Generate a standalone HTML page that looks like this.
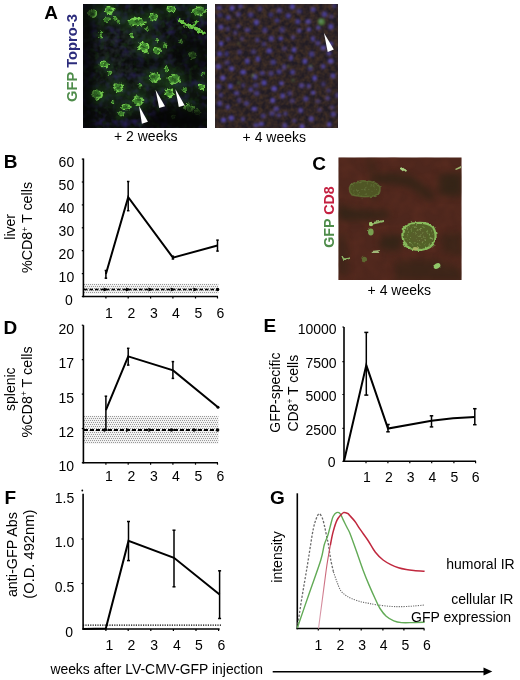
<!DOCTYPE html>
<html><head><meta charset="utf-8"><style>
html,body{margin:0;padding:0;background:#fff;}
body{width:520px;height:680px;overflow:hidden;}
svg text{font-family:'Liberation Sans', sans-serif;}
</style></head><body>
<svg width="520" height="680" viewBox="0 0 520 680" style="display:block;font-family:'Liberation Sans', sans-serif">
<defs>
<filter color-interpolation-filters="sRGB" id="b2" x="-20%" y="-20%" width="140%" height="140%"><feGaussianBlur stdDeviation="4"/></filter>
<filter color-interpolation-filters="sRGB" id="b3" x="-20%" y="-20%" width="140%" height="140%"><feGaussianBlur stdDeviation="6"/></filter>
<filter color-interpolation-filters="sRGB" id="b6" x="-20%" y="-20%" width="140%" height="140%"><feGaussianBlur stdDeviation="14"/></filter>
<filter color-interpolation-filters="sRGB" id="disp1" x="-10%" y="-10%" width="120%" height="120%"><feTurbulence type="fractalNoise" baseFrequency="0.3" numOctaves="2" seed="11" result="t"/><feDisplacementMap in="SourceGraphic" in2="t" scale="5" xChannelSelector="R" yChannelSelector="G" result="d"/><feGaussianBlur in="d" stdDeviation="0.7"/></filter>
<filter color-interpolation-filters="sRGB" id="ngrayM" x="0" y="0" width="100%" height="100%"><feTurbulence type="fractalNoise" baseFrequency="0.2" numOctaves="2" seed="17" result="n"/><feColorMatrix in="n" type="matrix" values="0 0 0 0 0  0 0 0 0 0  0 0 0 0 0  1.8 0 0 0 -0.5" result="m"/><feComposite in="SourceGraphic" in2="m" operator="in"/></filter>
<filter color-interpolation-filters="sRGB" id="speck" x="0" y="0" width="100%" height="100%"><feTurbulence type="fractalNoise" baseFrequency="0.45" numOctaves="1" seed="23" result="n"/><feColorMatrix in="n" type="matrix" values="0 0 0 0 0  0 0 0 0 0  0 0 0 0 0  4.5 0 0 0 -2.55" result="m"/><feComposite in="SourceGraphic" in2="m" operator="in"/></filter>
<filter color-interpolation-filters="sRGB" id="disp3" x="-10%" y="-10%" width="120%" height="120%"><feTurbulence type="fractalNoise" baseFrequency="0.2" numOctaves="2" seed="31" result="t"/><feDisplacementMap in="SourceGraphic" in2="t" scale="3" xChannelSelector="R" yChannelSelector="G" result="d"/><feGaussianBlur in="d" stdDeviation="0.6"/></filter>
<filter color-interpolation-filters="sRGB" id="bl1" x="-20%" y="-20%" width="140%" height="140%"><feGaussianBlur stdDeviation="0.8"/></filter>
<filter color-interpolation-filters="sRGB" id="bl4" x="-30%" y="-30%" width="160%" height="160%"><feGaussianBlur stdDeviation="3.5"/></filter>
<filter color-interpolation-filters="sRGB" id="nblue1" x="0" y="0" width="100%" height="100%"><feTurbulence type="fractalNoise" baseFrequency="0.13" numOctaves="2" seed="4"/><feColorMatrix type="matrix" values="0 0 0 0 0.16  0 0 0 0 0.12  0 0 0 0 0.36  0 0 2.0 0 -0.92"/></filter>
<filter color-interpolation-filters="sRGB" id="ngreen1" x="0" y="0" width="100%" height="100%"><feTurbulence type="fractalNoise" baseFrequency="0.18" numOctaves="2" seed="9"/><feColorMatrix type="matrix" values="0 0 0 0 0.1  0 0 0 0 0.24  0 0 0 0 0.08  1.8 0 0 0 -0.95"/></filter>
<filter color-interpolation-filters="sRGB" id="nbrown2" x="0" y="0" width="100%" height="100%"><feTurbulence type="fractalNoise" baseFrequency="0.05" numOctaves="2" seed="2"/><feColorMatrix type="matrix" values="0 0 0 0 0.26  0 0 0 0 0.19  0 0 0 0 0.15  1.9 0 0 0 -0.52"/></filter>
<filter color-interpolation-filters="sRGB" id="nred3" x="0" y="0" width="100%" height="100%"><feTurbulence type="fractalNoise" baseFrequency="0.08" numOctaves="2" seed="5"/><feColorMatrix type="matrix" values="0 0 0 0 0.37  0 0 0 0 0.18  0 0 0 0 0.13  1.8 0 0 0 -0.6"/></filter>
<filter id="nop" x="0" y="0" width="100%" height="100%" filterUnits="userSpaceOnUse"><feOffset dx="0" dy="0"/></filter>
<pattern id="stip" width="4" height="4" patternUnits="userSpaceOnUse"><rect width="4" height="4" fill="#f2f2f2"/><rect x="0" y="0" width="1" height="1" fill="#999"/><rect x="2" y="0" width="1" height="1" fill="#999"/><rect x="1" y="2" width="1" height="1" fill="#999"/><rect x="3" y="2" width="1" height="1" fill="#999"/></pattern>
</defs>
<g filter="url(#nop)">
<text x="44.3" y="18.8" font-size="19" text-anchor="start" font-weight="bold" fill="#000">A</text>
<text x="3.7" y="168.1" font-size="19" text-anchor="start" font-weight="bold" fill="#000">B</text>
<text x="312.2" y="169.6" font-size="19" text-anchor="start" font-weight="bold" fill="#000">C</text>
<text x="3.4" y="333.7" font-size="19" text-anchor="start" font-weight="bold" fill="#000">D</text>
<text x="263.5" y="332.0" font-size="19" text-anchor="start" font-weight="bold" fill="#000">E</text>
<text x="4.5" y="503.9" font-size="19" text-anchor="start" font-weight="bold" fill="#000">F</text>
<text x="269.9" y="503.9" font-size="19" text-anchor="start" font-weight="bold" fill="#000">G</text>
<svg x="83" y="4" width="124" height="124" viewBox="0 0 124 124" preserveAspectRatio="none">
<rect width="124" height="124" fill="#0c0e0d"/>
<rect width="124" height="124" filter="url(#nblue1)"/>
<rect width="124" height="124" filter="url(#ngreen1)"/>
<defs><radialGradient id="hz1" cx="0.35" cy="0.4" r="0.55"><stop offset="0" stop-color="#3a4448" stop-opacity="0.55"/><stop offset="1" stop-color="#3a4448" stop-opacity="0"/></radialGradient></defs>
<rect width="124" height="124" fill="url(#hz1)" filter="url(#ngrayM)"/>
<g filter="url(#bl4)" opacity="0.55">
<ellipse cx="9.5" cy="9.5" rx="8.60" ry="8.60" fill="#1e4a1a"/>
<ellipse cx="26.2" cy="6" rx="9.60" ry="7.60" fill="#1e4a1a"/>
<ellipse cx="23.8" cy="15.5" rx="5.80" ry="5.00" fill="#1e4a1a"/>
<ellipse cx="53.6" cy="17.9" rx="17.00" ry="8.00" fill="#1e4a1a"/>
<ellipse cx="70.3" cy="13.1" rx="8.60" ry="8.00" fill="#1e4a1a"/>
<ellipse cx="88.2" cy="4.8" rx="8.60" ry="7.00" fill="#1e4a1a"/>
<ellipse cx="116" cy="7" rx="13.00" ry="8.40" fill="#1e4a1a"/>
<ellipse cx="35.8" cy="17.9" rx="4.00" ry="4.00" fill="#1e4a1a"/>
<ellipse cx="17.9" cy="32.2" rx="4.00" ry="4.00" fill="#1e4a1a"/>
<ellipse cx="60.8" cy="42.9" rx="10.40" ry="10.00" fill="#1e4a1a"/>
<ellipse cx="73.9" cy="46.5" rx="7.20" ry="7.20" fill="#1e4a1a"/>
<ellipse cx="82.3" cy="41.7" rx="4.00" ry="4.00" fill="#1e4a1a"/>
<ellipse cx="109.7" cy="51.3" rx="7.20" ry="6.60" fill="#1e4a1a"/>
<ellipse cx="21.3" cy="60.5" rx="8.40" ry="5.60" fill="#1e4a1a"/>
<ellipse cx="71.5" cy="73.6" rx="10.40" ry="9.60" fill="#1e4a1a"/>
<ellipse cx="91.1" cy="75.1" rx="12.00" ry="9.60" fill="#1e4a1a"/>
<ellipse cx="83.5" cy="64.4" rx="4.80" ry="4.80" fill="#1e4a1a"/>
<ellipse cx="35.3" cy="83.5" rx="9.60" ry="9.00" fill="#1e4a1a"/>
<ellipse cx="14.3" cy="90.6" rx="10.40" ry="9.60" fill="#1e4a1a"/>
<ellipse cx="54.8" cy="96.6" rx="10.40" ry="10.00" fill="#1e4a1a"/>
<ellipse cx="86.3" cy="88.7" rx="8.60" ry="8.60" fill="#1e4a1a"/>
<ellipse cx="42.9" cy="103" rx="8.60" ry="5.80" fill="#1e4a1a"/>
<ellipse cx="38.1" cy="109.7" rx="5.80" ry="4.80" fill="#1e4a1a"/>
<ellipse cx="118" cy="82.8" rx="6.00" ry="6.00" fill="#1e4a1a"/>
<ellipse cx="106.1" cy="103.7" rx="9.00" ry="8.00" fill="#1e4a1a"/>
<ellipse cx="114.5" cy="108.5" rx="7.00" ry="6.00" fill="#1e4a1a"/>
<ellipse cx="101.3" cy="85.8" rx="4.80" ry="4.80" fill="#1e4a1a"/>
<ellipse cx="57.2" cy="81.1" rx="4.80" ry="4.00" fill="#1e4a1a"/>
<ellipse cx="26.2" cy="69.1" rx="4.00" ry="4.00" fill="#1e4a1a"/>
<ellipse cx="32.2" cy="14.3" rx="4.00" ry="4.00" fill="#1e4a1a"/>
<ellipse cx="48.8" cy="31" rx="5.00" ry="4.00" fill="#1e4a1a"/>
<ellipse cx="18" cy="28" rx="3.00" ry="3.00" fill="#1e4a1a"/>
<ellipse cx="74" cy="36" rx="4.00" ry="3.20" fill="#1e4a1a"/>
<ellipse cx="64" cy="25" rx="3.20" ry="3.20" fill="#1e4a1a"/>
<ellipse cx="64" cy="48" rx="3.00" ry="3.00" fill="#1e4a1a"/>
<ellipse cx="83.6" cy="65" rx="4.00" ry="4.00" fill="#1e4a1a"/>
<ellipse cx="30" cy="98" rx="4.00" ry="4.00" fill="#1e4a1a"/>
<ellipse cx="90" cy="113" rx="4.00" ry="4.00" fill="#1e4a1a"/>
<ellipse cx="98" cy="38" rx="4.00" ry="4.00" fill="#1e4a1a"/>
<ellipse cx="120" cy="70" rx="4.00" ry="4.00" fill="#1e4a1a"/>
</g>
<g filter="url(#disp1)">
<ellipse cx="9.5" cy="9.5" rx="3.83" ry="3.83" fill="#428c30" stroke="#7cd854" stroke-width="1.63" stroke-dasharray="7.4 2.3" opacity="0.94"/>
<ellipse cx="10.0" cy="10.1" rx="1.63" ry="1.39" fill="#1a3a18" opacity="0.57"/>
<ellipse cx="26.2" cy="6" rx="4.47" ry="3.39" fill="#428c30" stroke="#7cd854" stroke-width="1.44" stroke-dasharray="8.3 2.6" opacity="0.99"/>
<ellipse cx="26.7" cy="6.8" rx="1.81" ry="1.23" fill="#1a3a18" opacity="0.59"/>
<ellipse cx="23.8" cy="15.5" rx="2.66" ry="2.23" fill="#428c30" stroke="#7cd854" stroke-width="0.94" stroke-dasharray="5.0 1.6" opacity="0.85"/>
<ellipse cx="23.7" cy="16.4" rx="1.10" ry="0.81" fill="#1a3a18" opacity="0.51"/>
<ellipse cx="53.6" cy="17.9" rx="8.42" ry="3.56" fill="#428c30" stroke="#7cd854" stroke-width="1.51" stroke-dasharray="14.7 4.6" opacity="0.95"/>
<ellipse cx="54.4" cy="17.1" rx="3.21" ry="1.30" fill="#1a3a18" opacity="0.57"/>
<ellipse cx="70.3" cy="13.1" rx="3.89" ry="3.56" fill="#428c30" stroke="#7cd854" stroke-width="1.51" stroke-dasharray="7.4 2.3" opacity="0.92"/>
<ellipse cx="69.8" cy="13.2" rx="1.63" ry="1.30" fill="#1a3a18" opacity="0.55"/>
<ellipse cx="88.2" cy="4.8" rx="3.98" ry="3.12" fill="#428c30" stroke="#7cd854" stroke-width="1.32" stroke-dasharray="7.4 2.3" opacity="0.94"/>
<ellipse cx="87.2" cy="4.2" rx="1.63" ry="1.13" fill="#1a3a18" opacity="0.56"/>
<ellipse cx="116" cy="7" rx="6.23" ry="3.74" fill="#428c30" stroke="#7cd854" stroke-width="1.59" stroke-dasharray="11.2 3.5" opacity="0.89"/>
<ellipse cx="116.8" cy="7.5" rx="2.46" ry="1.36" fill="#1a3a18" opacity="0.54"/>
<ellipse cx="35.8" cy="17.9" rx="1.71" ry="1.71" fill="#428c30" stroke="#7cd854" stroke-width="0.90" stroke-dasharray="3.5 1.1" opacity="0.87"/>
<ellipse cx="36.4" cy="17.2" rx="0.76" ry="0.65" fill="#1a3a18" opacity="0.52"/>
<ellipse cx="17.9" cy="32.2" rx="1.71" ry="1.71" fill="#428c30" stroke="#7cd854" stroke-width="0.90" stroke-dasharray="3.5 1.1" opacity="0.94"/>
<ellipse cx="17.2" cy="31.2" rx="0.76" ry="0.65" fill="#1a3a18" opacity="0.57"/>
<ellipse cx="60.8" cy="42.9" rx="4.67" ry="4.46" fill="#428c30" stroke="#7cd854" stroke-width="1.89" stroke-dasharray="9.0 2.8" opacity="0.98"/>
<ellipse cx="60.2" cy="42.3" rx="1.97" ry="1.62" fill="#1a3a18" opacity="0.59"/>
<ellipse cx="73.9" cy="46.5" rx="3.21" ry="3.21" fill="#428c30" stroke="#7cd854" stroke-width="1.36" stroke-dasharray="6.2 1.9" opacity="1.00"/>
<ellipse cx="74.6" cy="46.1" rx="1.36" ry="1.17" fill="#1a3a18" opacity="0.60"/>
<ellipse cx="82.3" cy="41.7" rx="1.71" ry="1.71" fill="#428c30" stroke="#7cd854" stroke-width="0.90" stroke-dasharray="3.5 1.1" opacity="0.99"/>
<ellipse cx="82.4" cy="42.1" rx="0.76" ry="0.65" fill="#1a3a18" opacity="0.60"/>
<ellipse cx="109.7" cy="51.3" rx="3.26" ry="2.94" fill="#428c30" stroke="#7cd854" stroke-width="1.25" stroke-dasharray="6.2 1.9" opacity="0.88"/>
<ellipse cx="110.6" cy="51.7" rx="1.36" ry="1.07" fill="#1a3a18" opacity="0.53"/>
<ellipse cx="21.3" cy="60.5" rx="4.01" ry="2.49" fill="#428c30" stroke="#7cd854" stroke-width="1.06" stroke-dasharray="7.3 2.3" opacity="0.99"/>
<ellipse cx="22.1" cy="60.1" rx="1.59" ry="0.91" fill="#1a3a18" opacity="0.60"/>
<ellipse cx="71.5" cy="73.6" rx="4.71" ry="4.28" fill="#428c30" stroke="#7cd854" stroke-width="1.81" stroke-dasharray="9.0 2.8" opacity="0.90"/>
<ellipse cx="70.8" cy="72.9" rx="1.97" ry="1.56" fill="#1a3a18" opacity="0.54"/>
<ellipse cx="91.1" cy="75.1" rx="5.57" ry="4.28" fill="#428c30" stroke="#7cd854" stroke-width="1.81" stroke-dasharray="10.4 3.2" opacity="0.86"/>
<ellipse cx="90.7" cy="75.3" rx="2.27" ry="1.56" fill="#1a3a18" opacity="0.52"/>
<ellipse cx="83.5" cy="64.4" rx="2.14" ry="2.14" fill="#428c30" stroke="#7cd854" stroke-width="0.91" stroke-dasharray="4.1 1.3" opacity="0.85"/>
<ellipse cx="83.9" cy="64.1" rx="0.91" ry="0.78" fill="#1a3a18" opacity="0.51"/>
<ellipse cx="35.3" cy="83.5" rx="4.33" ry="4.01" fill="#428c30" stroke="#7cd854" stroke-width="1.70" stroke-dasharray="8.3 2.6" opacity="0.90"/>
<ellipse cx="35.9" cy="83.5" rx="1.81" ry="1.46" fill="#1a3a18" opacity="0.54"/>
<ellipse cx="14.3" cy="90.6" rx="4.71" ry="4.28" fill="#428c30" stroke="#7cd854" stroke-width="1.81" stroke-dasharray="9.0 2.8" opacity="0.90"/>
<ellipse cx="14.3" cy="91.0" rx="1.97" ry="1.56" fill="#1a3a18" opacity="0.54"/>
<ellipse cx="54.8" cy="96.6" rx="4.67" ry="4.46" fill="#428c30" stroke="#7cd854" stroke-width="1.89" stroke-dasharray="9.0 2.8" opacity="0.86"/>
<ellipse cx="55.8" cy="95.6" rx="1.97" ry="1.62" fill="#1a3a18" opacity="0.52"/>
<ellipse cx="86.3" cy="88.7" rx="3.83" ry="3.83" fill="#428c30" stroke="#7cd854" stroke-width="1.63" stroke-dasharray="7.4 2.3" opacity="0.96"/>
<ellipse cx="87.0" cy="87.7" rx="1.63" ry="1.39" fill="#1a3a18" opacity="0.58"/>
<ellipse cx="42.9" cy="103" rx="4.10" ry="2.58" fill="#428c30" stroke="#7cd854" stroke-width="1.10" stroke-dasharray="7.4 2.3" opacity="0.97"/>
<ellipse cx="42.6" cy="103.2" rx="1.63" ry="0.94" fill="#1a3a18" opacity="0.58"/>
<ellipse cx="38.1" cy="109.7" rx="2.68" ry="2.14" fill="#428c30" stroke="#7cd854" stroke-width="0.91" stroke-dasharray="5.0 1.6" opacity="0.85"/>
<ellipse cx="37.2" cy="109.1" rx="1.10" ry="0.78" fill="#1a3a18" opacity="0.51"/>
<ellipse cx="118" cy="82.8" rx="2.67" ry="2.67" fill="#428c30" stroke="#7cd854" stroke-width="1.13" stroke-dasharray="5.2 1.6" opacity="0.99"/>
<ellipse cx="117.4" cy="83.3" rx="1.13" ry="0.97" fill="#1a3a18" opacity="0.60"/>
<ellipse cx="106.1" cy="103.7" rx="4.10" ry="3.56" fill="#428c30" stroke="#7cd854" stroke-width="1.51" stroke-dasharray="7.8 2.4" opacity="0.99"/>
<ellipse cx="107.0" cy="103.4" rx="1.70" ry="1.30" fill="#1a3a18" opacity="0.59"/>
<ellipse cx="114.5" cy="108.5" rx="3.21" ry="2.67" fill="#428c30" stroke="#7cd854" stroke-width="1.13" stroke-dasharray="6.0 1.9" opacity="0.90"/>
<ellipse cx="114.5" cy="109.1" rx="1.32" ry="0.97" fill="#1a3a18" opacity="0.54"/>
<ellipse cx="101.3" cy="85.8" rx="2.14" ry="2.14" fill="#428c30" stroke="#7cd854" stroke-width="0.91" stroke-dasharray="4.1 1.3" opacity="0.87"/>
<ellipse cx="101.8" cy="86.4" rx="0.91" ry="0.78" fill="#1a3a18" opacity="0.52"/>
<ellipse cx="57.2" cy="81.1" rx="2.14" ry="1.71" fill="#428c30" stroke="#7cd854" stroke-width="0.90" stroke-dasharray="4.1 1.3" opacity="0.98"/>
<ellipse cx="56.3" cy="82.0" rx="0.91" ry="0.65" fill="#1a3a18" opacity="0.59"/>
<ellipse cx="26.2" cy="69.1" rx="1.71" ry="1.71" fill="#428c30" stroke="#7cd854" stroke-width="0.90" stroke-dasharray="3.5 1.1" opacity="0.86"/>
<ellipse cx="25.9" cy="69.3" rx="0.76" ry="0.65" fill="#1a3a18" opacity="0.52"/>
<ellipse cx="32.2" cy="14.3" rx="1.71" ry="1.71" fill="#428c30" stroke="#7cd854" stroke-width="0.90" stroke-dasharray="3.5 1.1" opacity="0.99"/>
<ellipse cx="31.9" cy="15.1" rx="0.76" ry="0.65" fill="#1a3a18" opacity="0.59"/>
<ellipse cx="48.8" cy="31" rx="2.25" ry="1.71" fill="#428c30" stroke="#7cd854" stroke-width="0.90" stroke-dasharray="4.3 1.4" opacity="0.93"/>
<ellipse cx="48.4" cy="30.6" rx="0.94" ry="0.65" fill="#1a3a18" opacity="0.56"/>
<ellipse cx="18" cy="28" rx="1.17" ry="1.17" fill="#428c30" stroke="#7cd854" stroke-width="0.90" stroke-dasharray="2.6 0.8" opacity="0.88"/>
<ellipse cx="17.2" cy="27.3" rx="0.57" ry="0.49" fill="#1a3a18" opacity="0.53"/>
<ellipse cx="74" cy="36" rx="1.71" ry="1.28" fill="#428c30" stroke="#7cd854" stroke-width="0.90" stroke-dasharray="3.5 1.1" opacity="0.95"/>
<ellipse cx="75.0" cy="35.3" rx="0.76" ry="0.52" fill="#1a3a18" opacity="0.57"/>
<ellipse cx="64" cy="25" rx="1.28" ry="1.28" fill="#428c30" stroke="#7cd854" stroke-width="0.90" stroke-dasharray="2.8 0.9" opacity="0.86"/>
<ellipse cx="65.0" cy="25.1" rx="0.60" ry="0.52" fill="#1a3a18" opacity="0.51"/>
<ellipse cx="64" cy="48" rx="1.17" ry="1.17" fill="#428c30" stroke="#7cd854" stroke-width="0.90" stroke-dasharray="2.6 0.8" opacity="0.91"/>
<ellipse cx="63.5" cy="48.2" rx="0.57" ry="0.49" fill="#1a3a18" opacity="0.55"/>
<ellipse cx="83.6" cy="65" rx="1.71" ry="1.71" fill="#428c30" stroke="#7cd854" stroke-width="0.90" stroke-dasharray="3.5 1.1" opacity="0.97"/>
<ellipse cx="83.5" cy="64.8" rx="0.76" ry="0.65" fill="#1a3a18" opacity="0.58"/>
<ellipse cx="30" cy="98" rx="1.71" ry="1.71" fill="#428c30" stroke="#7cd854" stroke-width="0.90" stroke-dasharray="3.5 1.1" opacity="0.86"/>
<ellipse cx="30.8" cy="97.1" rx="0.76" ry="0.65" fill="#1a3a18" opacity="0.52"/>
<ellipse cx="90" cy="113" rx="1.71" ry="1.71" fill="#428c30" stroke="#7cd854" stroke-width="0.90" stroke-dasharray="3.5 1.1" opacity="0.92"/>
<ellipse cx="90.7" cy="112.3" rx="0.76" ry="0.65" fill="#1a3a18" opacity="0.55"/>
<ellipse cx="98" cy="38" rx="1.71" ry="1.71" fill="#428c30" stroke="#7cd854" stroke-width="0.90" stroke-dasharray="3.5 1.1" opacity="0.96"/>
<ellipse cx="98.9" cy="38.3" rx="0.76" ry="0.65" fill="#1a3a18" opacity="0.58"/>
<ellipse cx="120" cy="70" rx="1.71" ry="1.71" fill="#428c30" stroke="#7cd854" stroke-width="0.90" stroke-dasharray="3.5 1.1" opacity="0.97"/>
<ellipse cx="119.2" cy="69.9" rx="0.76" ry="0.65" fill="#1a3a18" opacity="0.58"/>
<path d="M96.3 15.7 Q100 19 103 20.5 Q106 22 109.8 22.8 Q113 25 115 26 L121.2 29.2" fill="none" stroke="#6cc848" stroke-width="3.2" stroke-linecap="round"/>
<path d="M109.8 22.8 L114 17.1" fill="none" stroke="#5cb83e" stroke-width="2.4" stroke-linecap="round"/>
</g>
<g filter="url(#bl4)" fill="#030404">
<rect x="-4" y="-4" width="15" height="132" opacity="0.7"/>
<path d="M66 112 Q85 100 124 104 L124 124 L66 124Z" opacity="0.85"/>
<path d="M88 36 Q108 33 124 38 L124 66 Q108 64 90 58Z" opacity="0.55"/>
<path d="M40 50 Q60 55 80 52 L80 62 Q60 66 40 60Z" opacity="0.4"/>
</g>
</svg>
<polygon points="139,105.8 141.9,123.7 147.9,121.7" fill="#fff"/>
<polygon points="155.5,89.8 159.2,108.1 165,106.3" fill="#fff"/>
<polygon points="175.4,89 178.8,106.9 184.6,105.2" fill="#fff"/>
<svg x="215" y="4" width="123" height="124" viewBox="0 0 520 520" preserveAspectRatio="none">
<rect width="520" height="520" fill="#221c24"/>
<rect width="520" height="520" filter="url(#nbrown2)"/>
<g filter="url(#b2)">
<ellipse cx="18" cy="16" rx="11" ry="9" fill="#5a4ec4" opacity="0.64"/>
<ellipse cx="108" cy="10" rx="11" ry="9" fill="#5a4ec4" opacity="0.60"/>
<ellipse cx="190" cy="20" rx="10" ry="11" fill="#5a4ec4" opacity="0.46"/>
<ellipse cx="272" cy="27" rx="12" ry="11" fill="#5a4ec4" opacity="0.58"/>
<ellipse cx="356" cy="30" rx="12" ry="10" fill="#5a4ec4" opacity="0.46"/>
<ellipse cx="415" cy="23" rx="11" ry="10" fill="#5a4ec4" opacity="0.66"/>
<ellipse cx="492" cy="53" rx="11" ry="9" fill="#5a4ec4" opacity="0.43"/>
<ellipse cx="56" cy="57" rx="10" ry="10" fill="#5a4ec4" opacity="0.66"/>
<ellipse cx="99" cy="43" rx="11" ry="11" fill="#5a4ec4" opacity="0.51"/>
<ellipse cx="151" cy="45" rx="12" ry="11" fill="#5a4ec4" opacity="0.53"/>
<ellipse cx="236" cy="45" rx="10" ry="11" fill="#5a4ec4" opacity="0.47"/>
<ellipse cx="310" cy="49" rx="11" ry="11" fill="#5a4ec4" opacity="0.66"/>
<ellipse cx="350" cy="73" rx="11" ry="11" fill="#5a4ec4" opacity="0.66"/>
<ellipse cx="394" cy="74" rx="12" ry="10" fill="#5a4ec4" opacity="0.70"/>
<ellipse cx="175" cy="77" rx="11" ry="12" fill="#5a4ec4" opacity="0.77"/>
<ellipse cx="262" cy="69" rx="11" ry="9" fill="#5a4ec4" opacity="0.61"/>
<ellipse cx="86" cy="120" rx="9" ry="11" fill="#5a4ec4" opacity="0.46"/>
<ellipse cx="137" cy="109" rx="12" ry="9" fill="#5a4ec4" opacity="0.60"/>
<ellipse cx="211" cy="110" rx="11" ry="12" fill="#5a4ec4" opacity="0.53"/>
<ellipse cx="284" cy="108" rx="12" ry="12" fill="#5a4ec4" opacity="0.47"/>
<ellipse cx="356" cy="112" rx="10" ry="10" fill="#5a4ec4" opacity="0.67"/>
<ellipse cx="437" cy="99" rx="10" ry="10" fill="#5a4ec4" opacity="0.65"/>
<ellipse cx="25" cy="97" rx="11" ry="11" fill="#5a4ec4" opacity="0.70"/>
<ellipse cx="490" cy="95" rx="11" ry="12" fill="#5a4ec4" opacity="0.76"/>
<ellipse cx="54" cy="104" rx="9" ry="11" fill="#5a4ec4" opacity="0.43"/>
<ellipse cx="55" cy="147" rx="9" ry="10" fill="#5a4ec4" opacity="0.42"/>
<ellipse cx="114" cy="146" rx="9" ry="10" fill="#5a4ec4" opacity="0.41"/>
<ellipse cx="179" cy="151" rx="9" ry="10" fill="#5a4ec4" opacity="0.56"/>
<ellipse cx="238" cy="145" rx="12" ry="12" fill="#5a4ec4" opacity="0.61"/>
<ellipse cx="330" cy="140" rx="9" ry="10" fill="#5a4ec4" opacity="0.52"/>
<ellipse cx="414" cy="146" rx="9" ry="12" fill="#5a4ec4" opacity="0.64"/>
<ellipse cx="26" cy="166" rx="9" ry="11" fill="#5a4ec4" opacity="0.84"/>
<ellipse cx="104" cy="202" rx="10" ry="10" fill="#5a4ec4" opacity="0.48"/>
<ellipse cx="163" cy="200" rx="11" ry="10" fill="#5a4ec4" opacity="0.50"/>
<ellipse cx="229" cy="196" rx="12" ry="11" fill="#5a4ec4" opacity="0.77"/>
<ellipse cx="293" cy="187" rx="11" ry="10" fill="#5a4ec4" opacity="0.41"/>
<ellipse cx="334" cy="192" rx="10" ry="11" fill="#5a4ec4" opacity="0.83"/>
<ellipse cx="409" cy="210" rx="12" ry="12" fill="#5a4ec4" opacity="0.56"/>
<ellipse cx="482" cy="207" rx="10" ry="10" fill="#5a4ec4" opacity="0.68"/>
<ellipse cx="20" cy="209" rx="10" ry="11" fill="#5a4ec4" opacity="0.76"/>
<ellipse cx="15" cy="262" rx="12" ry="11" fill="#5a4ec4" opacity="0.74"/>
<ellipse cx="70" cy="271" rx="11" ry="10" fill="#5a4ec4" opacity="0.76"/>
<ellipse cx="136" cy="239" rx="10" ry="12" fill="#5a4ec4" opacity="0.73"/>
<ellipse cx="181" cy="231" rx="9" ry="12" fill="#5a4ec4" opacity="0.76"/>
<ellipse cx="246" cy="244" rx="12" ry="11" fill="#5a4ec4" opacity="0.56"/>
<ellipse cx="321" cy="226" rx="9" ry="12" fill="#5a4ec4" opacity="0.69"/>
<ellipse cx="380" cy="240" rx="10" ry="12" fill="#5a4ec4" opacity="0.77"/>
<ellipse cx="457" cy="262" rx="10" ry="10" fill="#5a4ec4" opacity="0.66"/>
<ellipse cx="292" cy="264" rx="9" ry="12" fill="#5a4ec4" opacity="0.56"/>
<ellipse cx="119" cy="286" rx="12" ry="10" fill="#5a4ec4" opacity="0.81"/>
<ellipse cx="200" cy="290" rx="11" ry="9" fill="#5a4ec4" opacity="0.60"/>
<ellipse cx="271" cy="284" rx="11" ry="10" fill="#5a4ec4" opacity="0.61"/>
<ellipse cx="328" cy="286" rx="10" ry="11" fill="#5a4ec4" opacity="0.65"/>
<ellipse cx="403" cy="270" rx="11" ry="10" fill="#5a4ec4" opacity="0.52"/>
<ellipse cx="33" cy="310" rx="11" ry="11" fill="#5a4ec4" opacity="0.81"/>
<ellipse cx="499" cy="301" rx="11" ry="11" fill="#5a4ec4" opacity="0.71"/>
<ellipse cx="169" cy="305" rx="10" ry="12" fill="#5a4ec4" opacity="0.71"/>
<ellipse cx="65" cy="345" rx="10" ry="11" fill="#5a4ec4" opacity="0.82"/>
<ellipse cx="119" cy="341" rx="9" ry="10" fill="#5a4ec4" opacity="0.43"/>
<ellipse cx="207" cy="330" rx="11" ry="11" fill="#5a4ec4" opacity="0.80"/>
<ellipse cx="281" cy="333" rx="11" ry="9" fill="#5a4ec4" opacity="0.80"/>
<ellipse cx="366" cy="342" rx="12" ry="10" fill="#5a4ec4" opacity="0.62"/>
<ellipse cx="396" cy="344" rx="9" ry="10" fill="#5a4ec4" opacity="0.63"/>
<ellipse cx="458" cy="336" rx="10" ry="11" fill="#5a4ec4" opacity="0.41"/>
<ellipse cx="151" cy="359" rx="9" ry="10" fill="#5a4ec4" opacity="0.68"/>
<ellipse cx="250" cy="355" rx="12" ry="11" fill="#5a4ec4" opacity="0.84"/>
<ellipse cx="25" cy="382" rx="9" ry="11" fill="#5a4ec4" opacity="0.52"/>
<ellipse cx="176" cy="374" rx="12" ry="11" fill="#5a4ec4" opacity="0.52"/>
<ellipse cx="316" cy="375" rx="11" ry="11" fill="#5a4ec4" opacity="0.44"/>
<ellipse cx="415" cy="372" rx="10" ry="9" fill="#5a4ec4" opacity="0.82"/>
<ellipse cx="102" cy="404" rx="9" ry="12" fill="#5a4ec4" opacity="0.43"/>
<ellipse cx="244" cy="404" rx="10" ry="11" fill="#5a4ec4" opacity="0.82"/>
<ellipse cx="327" cy="406" rx="11" ry="10" fill="#5a4ec4" opacity="0.45"/>
<ellipse cx="476" cy="395" rx="10" ry="10" fill="#5a4ec4" opacity="0.54"/>
<ellipse cx="133" cy="417" rx="11" ry="10" fill="#5a4ec4" opacity="0.56"/>
<ellipse cx="54" cy="432" rx="9" ry="11" fill="#5a4ec4" opacity="0.65"/>
<ellipse cx="166" cy="440" rx="12" ry="9" fill="#5a4ec4" opacity="0.77"/>
<ellipse cx="259" cy="440" rx="12" ry="10" fill="#5a4ec4" opacity="0.63"/>
<ellipse cx="362" cy="446" rx="10" ry="11" fill="#5a4ec4" opacity="0.72"/>
<ellipse cx="442" cy="444" rx="10" ry="9" fill="#5a4ec4" opacity="0.46"/>
<ellipse cx="495" cy="433" rx="10" ry="9" fill="#5a4ec4" opacity="0.44"/>
<ellipse cx="204" cy="469" rx="11" ry="10" fill="#5a4ec4" opacity="0.51"/>
<ellipse cx="298" cy="460" rx="9" ry="10" fill="#5a4ec4" opacity="0.52"/>
<ellipse cx="36" cy="486" rx="11" ry="10" fill="#5a4ec4" opacity="0.83"/>
<ellipse cx="118" cy="483" rx="9" ry="10" fill="#5a4ec4" opacity="0.61"/>
<ellipse cx="270" cy="466" rx="11" ry="9" fill="#5a4ec4" opacity="0.52"/>
<ellipse cx="335" cy="489" rx="9" ry="9" fill="#5a4ec4" opacity="0.54"/>
<ellipse cx="407" cy="481" rx="11" ry="11" fill="#5a4ec4" opacity="0.70"/>
<ellipse cx="483" cy="505" rx="10" ry="10" fill="#5a4ec4" opacity="0.84"/>
<ellipse cx="196" cy="503" rx="11" ry="9" fill="#5a4ec4" opacity="0.78"/>
<ellipse cx="518" cy="383" rx="11" ry="11" fill="#5a4ec4" opacity="0.46"/>
<ellipse cx="69" cy="478" rx="12" ry="11" fill="#5a4ec4" opacity="0.77"/>
<ellipse cx="237" cy="291" rx="11" ry="11" fill="#5a4ec4" opacity="0.50"/>
<ellipse cx="397" cy="107" rx="10" ry="9" fill="#5a4ec4" opacity="0.78"/>
<ellipse cx="500" cy="462" rx="11" ry="11" fill="#5a4ec4" opacity="0.62"/>
<ellipse cx="384" cy="398" rx="11" ry="11" fill="#5a4ec4" opacity="0.64"/>
<ellipse cx="21" cy="47" rx="11" ry="10" fill="#5a4ec4" opacity="0.43"/>
<ellipse cx="368" cy="514" rx="10" ry="11" fill="#5a4ec4" opacity="0.84"/>
<ellipse cx="286" cy="385" rx="10" ry="11" fill="#5a4ec4" opacity="0.75"/>
<ellipse cx="99" cy="93" rx="9" ry="9" fill="#5a4ec4" opacity="0.51"/>
<ellipse cx="435" cy="408" rx="11" ry="9" fill="#5a4ec4" opacity="0.43"/>
<ellipse cx="435" cy="164" rx="11" ry="11" fill="#5a4ec4" opacity="0.53"/>
<ellipse cx="278" cy="145" rx="10" ry="9" fill="#5a4ec4" opacity="0.80"/>
<ellipse cx="91" cy="374" rx="12" ry="9" fill="#5a4ec4" opacity="0.61"/>
<ellipse cx="207" cy="168" rx="10" ry="10" fill="#5a4ec4" opacity="0.49"/>
<ellipse cx="173" cy="508" rx="11" ry="9" fill="#5a4ec4" opacity="0.64"/>
<ellipse cx="327" cy="11" rx="11" ry="11" fill="#5a4ec4" opacity="0.80"/>
<ellipse cx="51" cy="246" rx="12" ry="10" fill="#5a4ec4" opacity="0.41"/>
<ellipse cx="504" cy="8" rx="10" ry="10" fill="#5a4ec4" opacity="0.46"/>
<ellipse cx="488" cy="167" rx="12" ry="9" fill="#5a4ec4" opacity="0.74"/>
<ellipse cx="489" cy="239" rx="12" ry="11" fill="#5a4ec4" opacity="0.81"/>
<ellipse cx="20" cy="417" rx="10" ry="12" fill="#5a4ec4" opacity="0.67"/>
<ellipse cx="480" cy="363" rx="10" ry="9" fill="#5a4ec4" opacity="0.45"/>
<ellipse cx="241" cy="459" rx="12" ry="10" fill="#5a4ec4" opacity="0.52"/>
<ellipse cx="421" cy="311" rx="10" ry="12" fill="#5a4ec4" opacity="0.80"/>
<ellipse cx="463" cy="43" rx="12" ry="12" fill="#5a4ec4" opacity="0.65"/>
<ellipse cx="458" cy="184" rx="11" ry="10" fill="#5a4ec4" opacity="0.74"/>
<ellipse cx="49" cy="209" rx="9" ry="12" fill="#5a4ec4" opacity="0.46"/>
<ellipse cx="72" cy="17" rx="10" ry="11" fill="#5a4ec4" opacity="0.84"/>
<ellipse cx="16" cy="346" rx="10" ry="11" fill="#5a4ec4" opacity="0.58"/>
<ellipse cx="295" cy="510" rx="10" ry="12" fill="#5a4ec4" opacity="0.62"/>
<ellipse cx="173" cy="341" rx="12" ry="10" fill="#5a4ec4" opacity="0.46"/>
</g>
<g filter="url(#b2)">
<circle cx="450" cy="75" r="15" fill="#4e7a3a"/>
<circle cx="447" cy="72" r="6" fill="#7aa8a0" opacity="0.7"/>
<circle cx="405" cy="260" r="6" fill="#7a9a50" opacity="0.7"/>
<circle cx="160" cy="300" r="6" fill="#7a9a50" opacity="0.7"/>
<circle cx="100" cy="330" r="5" fill="#7a9a50" opacity="0.7"/>
<circle cx="330" cy="320" r="5" fill="#7a9a50" opacity="0.7"/>
<circle cx="310" cy="260" r="4" fill="#7a9a50" opacity="0.7"/>
<circle cx="100" cy="165" r="4" fill="#7a9a50" opacity="0.7"/>
</g>
</svg>
<polygon points="324,33.1 327.7,51.9 333.8,49.6" fill="#fff"/>
<svg x="338.5" y="157.5" width="123" height="122.5" viewBox="338.5 157.5 123 122.5" preserveAspectRatio="none">
<rect x="338" y="157" width="124" height="124" fill="#4e271d"/>
<rect x="338" y="157" width="124" height="124" filter="url(#nred3)" opacity="0.6"/>
<g filter="url(#bl4)" fill="#2f2416" opacity="0.8">
<path d="M338 205 Q360 212 385 210 L392 216 Q370 222 338 220Z"/>
<path d="M375 175 Q395 172 412 176 L436 196 L430 201 L408 186 Q392 182 375 184Z"/>
<path d="M438 175 L462 172 L462 196 L440 196Z"/>
<path d="M380 238 Q392 232 404 236 L400 250 Q388 252 380 248Z"/>
<path d="M395 262 Q420 256 445 262 L462 270 L462 281 L395 281Z" opacity="0.7"/>
<path d="M440 235 L462 232 L462 258 L444 252Z" opacity="0.7"/>
<path d="M338 235 L346 235 L348 275 L338 275Z" opacity="0.6"/>
<path d="M372 157 Q378 170 376 200 L370 200 Q372 175 366 157Z" opacity="0.6"/>
</g>
<g filter="url(#disp3)">
<path d="M350 186 Q356 180 366 181 Q376 181 380 187 Q381 194 374 196 Q362 198 352 195 Q348 191 350 186Z" fill="#4f5624"/>
<path d="M350 186 Q356 180 366 181 Q376 181 380 187 Q381 194 374 196 Q362 198 352 195 Q348 191 350 186Z" fill="none" stroke="#66803a" stroke-width="1.5" opacity="0.6"/>
<path d="M403 229 Q408 223 416 223 Q428 222 433 227 Q437 234 435 241 Q432 248 422 250 Q412 250 406 246 Q401 239 403 229Z" fill="#546228"/>
<path d="M403 229 Q408 223 416 223 Q428 222 433 227 Q437 234 435 241 Q432 248 422 250 Q412 250 406 246 Q401 239 403 229Z" fill="none" stroke="#88bc5c" stroke-width="2.2"/>
<ellipse cx="419" cy="236" rx="9" ry="7" fill="#585e2a" opacity="0.8"/>
<ellipse cx="415.5" cy="248.5" rx="3" ry="1.6" fill="#a8b060"/>
<path d="M350 186 Q356 180 366 181 Q376 181 380 187 Q381 194 374 196 Q362 198 352 195 Q348 191 350 186Z" fill="#70844a" filter="url(#speck)" opacity="0.6"/>
<path d="M403 229 Q408 223 416 223 Q428 222 433 227 Q437 234 435 241 Q432 248 422 250 Q412 250 406 246 Q401 239 403 229Z" fill="#94b468" filter="url(#speck)" opacity="0.7"/>
<ellipse cx="437" cy="266" rx="3.6" ry="2.6" fill="#90c868" transform="rotate(-30 437 266)"/>
<path d="M401 166 L406 170 L405 172 L400 168Z" fill="#a8d080"/>
<path d="M455 169 L461 166 L461 168 L456 170Z" fill="#a0b870"/>
<path d="M369 223 L384 220 L384 222 L371 225Z" fill="#90b868"/>
<circle cx="371" cy="224" r="2.2" fill="#a0c870"/>
<ellipse cx="370.8" cy="232" rx="2.8" ry="3.4" fill="#78a050"/>
<path d="M371 251 L380 250 L379 253 L372 253Z" fill="#a0b878"/>
<path d="M342 256 L344 261 L350 258 L344 259Z" fill="#90b868" stroke="#90b868" stroke-width="1"/>
<circle cx="364.2" cy="259.5" r="2.8" fill="#5e6830"/>
</g>
</svg>
<text x="114.0" y="141.3" font-size="14" text-anchor="start" font-weight="normal" fill="#000">+ 2 weeks</text>
<text x="242.6" y="141.6" font-size="14" text-anchor="start" font-weight="normal" fill="#000">+ 4 weeks</text>
<text x="367.6" y="294.6" font-size="14" text-anchor="start" font-weight="normal" fill="#000">+ 4 weeks</text>
<text transform="translate(76.9 58) rotate(-90)" font-size="14.75" font-weight="bold" text-anchor="middle"><tspan fill="#4e8c4a">GFP </tspan><tspan fill="#2c2c7c">Topro-3</tspan></text>
<text transform="translate(334.4 217) rotate(-90)" font-size="14.25" font-weight="bold" text-anchor="middle"><tspan fill="#4e8c4a">GFP </tspan><tspan fill="#c42040">CD8</tspan></text>
<rect x="83.4" y="283.6" width="135" height="10" fill="url(#stip)"/>
<line x1="83.4" y1="158.5" x2="83.4" y2="297.25" stroke="#000" stroke-width="1.6"/>
<line x1="82.60000000000001" y1="296.5" x2="218" y2="296.5" stroke="#000" stroke-width="1.6"/>
<line x1="105.9" y1="296.5" x2="105.9" y2="298.5" stroke="#000" stroke-width="1.2"/>
<line x1="128.2" y1="296.5" x2="128.2" y2="298.5" stroke="#000" stroke-width="1.2"/>
<line x1="150.6" y1="296.5" x2="150.6" y2="298.5" stroke="#000" stroke-width="1.2"/>
<line x1="172.9" y1="296.5" x2="172.9" y2="298.5" stroke="#000" stroke-width="1.2"/>
<line x1="195.5" y1="296.5" x2="195.5" y2="298.5" stroke="#000" stroke-width="1.2"/>
<line x1="217.5" y1="296.5" x2="217.5" y2="298.5" stroke="#000" stroke-width="1.2"/>
<line x1="81.80000000000001" y1="296.5" x2="83.4" y2="296.5" stroke="#000" stroke-width="1.2"/>
<line x1="81.80000000000001" y1="273.6" x2="83.4" y2="273.6" stroke="#000" stroke-width="1.2"/>
<line x1="81.80000000000001" y1="250.7" x2="83.4" y2="250.7" stroke="#000" stroke-width="1.2"/>
<line x1="81.80000000000001" y1="227.8" x2="83.4" y2="227.8" stroke="#000" stroke-width="1.2"/>
<line x1="81.80000000000001" y1="204.9" x2="83.4" y2="204.9" stroke="#000" stroke-width="1.2"/>
<line x1="81.80000000000001" y1="182.0" x2="83.4" y2="182.0" stroke="#000" stroke-width="1.2"/>
<line x1="81.80000000000001" y1="159.10000000000002" x2="83.4" y2="159.10000000000002" stroke="#000" stroke-width="1.2"/>
<line x1="84" y1="289.5" x2="219" y2="289.5" stroke="#000" stroke-width="1.4" stroke-dasharray="3.5 2"/>
<polygon points="103.7,287.6 108.30000000000001,289.5 103.7,291.4" fill="#000"/>
<polygon points="125.99999999999999,287.6 130.6,289.5 125.99999999999999,291.4" fill="#000"/>
<polygon points="148.4,287.6 153.0,289.5 148.4,291.4" fill="#000"/>
<polygon points="170.70000000000002,287.6 175.3,289.5 170.70000000000002,291.4" fill="#000"/>
<polygon points="193.3,287.6 197.9,289.5 193.3,291.4" fill="#000"/>
<circle cx="217.6" cy="289.5" r="1.7" fill="#000"/>
<polyline points="105.9,274 128.2,197.1 172.9,257.6 217.5,245.5" fill="none" stroke="#000" stroke-width="2"/>
<line x1="105.9" y1="270.5" x2="105.9" y2="278.2" stroke="#000" stroke-width="1.5"/>
<line x1="104.65" y1="270.5" x2="107.15" y2="270.5" stroke="#000" stroke-width="1.5"/>
<line x1="104.65" y1="278.2" x2="107.15" y2="278.2" stroke="#000" stroke-width="1.5"/>
<line x1="128.2" y1="181.5" x2="128.2" y2="210.7" stroke="#000" stroke-width="1.5"/>
<line x1="126.94999999999999" y1="181.5" x2="129.45" y2="181.5" stroke="#000" stroke-width="1.5"/>
<line x1="126.94999999999999" y1="210.7" x2="129.45" y2="210.7" stroke="#000" stroke-width="1.5"/>
<line x1="172.9" y1="256.2" x2="172.9" y2="259" stroke="#000" stroke-width="1.5"/>
<line x1="171.65" y1="256.2" x2="174.15" y2="256.2" stroke="#000" stroke-width="1.5"/>
<line x1="171.65" y1="259" x2="174.15" y2="259" stroke="#000" stroke-width="1.5"/>
<line x1="217.5" y1="240.1" x2="217.5" y2="251.1" stroke="#000" stroke-width="1.5"/>
<line x1="216.25" y1="240.1" x2="218.75" y2="240.1" stroke="#000" stroke-width="1.5"/>
<line x1="216.25" y1="251.1" x2="218.75" y2="251.1" stroke="#000" stroke-width="1.5"/>
<text x="74.2" y="166.75" font-size="14" text-anchor="end" font-weight="normal" fill="#000">60</text>
<text x="74.2" y="190" font-size="14" text-anchor="end" font-weight="normal" fill="#000">50</text>
<text x="74.2" y="212.9" font-size="14" text-anchor="end" font-weight="normal" fill="#000">40</text>
<text x="74.2" y="236.2" font-size="14" text-anchor="end" font-weight="normal" fill="#000">30</text>
<text x="74.2" y="259.1" font-size="14" text-anchor="end" font-weight="normal" fill="#000">20</text>
<text x="74.2" y="282.2" font-size="14" text-anchor="end" font-weight="normal" fill="#000">10</text>
<text x="72.9" y="304.5" font-size="14" text-anchor="end" font-weight="normal" fill="#000">0</text>
<text x="108.8" y="317.8" font-size="14" text-anchor="middle" font-weight="normal" fill="#000">1</text>
<text x="131.3" y="317.8" font-size="14" text-anchor="middle" font-weight="normal" fill="#000">2</text>
<text x="153.9" y="317.8" font-size="14" text-anchor="middle" font-weight="normal" fill="#000">3</text>
<text x="176" y="317.8" font-size="14" text-anchor="middle" font-weight="normal" fill="#000">4</text>
<text x="198.3" y="317.8" font-size="14" text-anchor="middle" font-weight="normal" fill="#000">5</text>
<text x="220.4" y="317.8" font-size="14" text-anchor="middle" font-weight="normal" fill="#000">6</text>
<text transform="translate(15.1 226.9) rotate(-90)" font-size="14" text-anchor="middle">liver</text>
<text transform="translate(32.2 227.5) rotate(-90)" font-size="14.3" text-anchor="middle">%CD8<tspan font-size="8.5" dy="-4.6">+</tspan><tspan dy="4.6"> T cells</tspan></text>
<rect x="83.4" y="415.8" width="135" height="28" fill="url(#stip)"/>
<line x1="83.4" y1="325.2" x2="83.4" y2="463.45" stroke="#000" stroke-width="1.6"/>
<line x1="82.60000000000001" y1="462.7" x2="218" y2="462.7" stroke="#000" stroke-width="1.6"/>
<line x1="105.9" y1="462.7" x2="105.9" y2="464.7" stroke="#000" stroke-width="1.2"/>
<line x1="128.2" y1="462.7" x2="128.2" y2="464.7" stroke="#000" stroke-width="1.2"/>
<line x1="150.6" y1="462.7" x2="150.6" y2="464.7" stroke="#000" stroke-width="1.2"/>
<line x1="172.9" y1="462.7" x2="172.9" y2="464.7" stroke="#000" stroke-width="1.2"/>
<line x1="195.5" y1="462.7" x2="195.5" y2="464.7" stroke="#000" stroke-width="1.2"/>
<line x1="217.5" y1="462.7" x2="217.5" y2="464.7" stroke="#000" stroke-width="1.2"/>
<line x1="81.80000000000001" y1="325.20000000000005" x2="83.4" y2="325.20000000000005" stroke="#000" stroke-width="1.2"/>
<line x1="81.80000000000001" y1="359.65" x2="83.4" y2="359.65" stroke="#000" stroke-width="1.2"/>
<line x1="81.80000000000001" y1="394.1" x2="83.4" y2="394.1" stroke="#000" stroke-width="1.2"/>
<line x1="81.80000000000001" y1="428.55" x2="83.4" y2="428.55" stroke="#000" stroke-width="1.2"/>
<line x1="81.80000000000001" y1="462.7" x2="83.4" y2="462.7" stroke="#000" stroke-width="1.2"/>
<line x1="84" y1="430" x2="219" y2="430" stroke="#000" stroke-width="1.9" stroke-dasharray="4 2"/>
<polygon points="103.7,428 108.30000000000001,430 103.7,432" fill="#000"/>
<polygon points="125.99999999999999,428 130.6,430 125.99999999999999,432" fill="#000"/>
<polygon points="148.4,428 153.0,430 148.4,432" fill="#000"/>
<polygon points="170.70000000000002,428 175.3,430 170.70000000000002,432" fill="#000"/>
<polygon points="193.3,428 197.9,430 193.3,432" fill="#000"/>
<circle cx="217.6" cy="430" r="1.8" fill="#000"/>
<polyline points="105.9,410.1 128.2,356.4 173.1,370.4 218,407.3" fill="none" stroke="#000" stroke-width="2"/>
<line x1="105.9" y1="396.2" x2="105.9" y2="430" stroke="#000" stroke-width="1.5"/>
<line x1="104.65" y1="396.2" x2="107.15" y2="396.2" stroke="#000" stroke-width="1.5"/>
<line x1="104.65" y1="430" x2="107.15" y2="430" stroke="#000" stroke-width="1.5"/>
<line x1="128.2" y1="348.3" x2="128.2" y2="365.1" stroke="#000" stroke-width="1.5"/>
<line x1="126.94999999999999" y1="348.3" x2="129.45" y2="348.3" stroke="#000" stroke-width="1.5"/>
<line x1="126.94999999999999" y1="365.1" x2="129.45" y2="365.1" stroke="#000" stroke-width="1.5"/>
<line x1="172.9" y1="361.6" x2="172.9" y2="378.4" stroke="#000" stroke-width="1.5"/>
<line x1="171.65" y1="361.6" x2="174.15" y2="361.6" stroke="#000" stroke-width="1.5"/>
<line x1="171.65" y1="378.4" x2="174.15" y2="378.4" stroke="#000" stroke-width="1.5"/>
<circle cx="218" cy="407.3" r="1.5" fill="#000"/>
<text x="74.0" y="334" font-size="14" text-anchor="end" font-weight="normal" fill="#000">20</text>
<text x="74.0" y="367.8" font-size="14" text-anchor="end" font-weight="normal" fill="#000">17</text>
<text x="74.0" y="403" font-size="14" text-anchor="end" font-weight="normal" fill="#000">15</text>
<text x="74.0" y="436.8" font-size="14" text-anchor="end" font-weight="normal" fill="#000">12</text>
<text x="74.0" y="471.4" font-size="14" text-anchor="end" font-weight="normal" fill="#000">10</text>
<text x="108.8" y="481" font-size="14" text-anchor="middle" font-weight="normal" fill="#000">1</text>
<text x="131.3" y="481" font-size="14" text-anchor="middle" font-weight="normal" fill="#000">2</text>
<text x="153.9" y="481" font-size="14" text-anchor="middle" font-weight="normal" fill="#000">3</text>
<text x="176" y="481" font-size="14" text-anchor="middle" font-weight="normal" fill="#000">4</text>
<text x="198.3" y="481" font-size="14" text-anchor="middle" font-weight="normal" fill="#000">5</text>
<text x="220.4" y="481" font-size="14" text-anchor="middle" font-weight="normal" fill="#000">6</text>
<text transform="translate(15 389.2) rotate(-90)" font-size="14" text-anchor="middle">splenic</text>
<text transform="translate(31.8 391.9) rotate(-90)" font-size="14.3" text-anchor="middle">%CD8<tspan font-size="8.5" dy="-4.6">+</tspan><tspan dy="4.6"> T cells</tspan></text>
<line x1="344" y1="327" x2="344" y2="462.05" stroke="#000" stroke-width="1.6"/>
<line x1="343.2" y1="461.3" x2="476" y2="461.3" stroke="#000" stroke-width="1.6"/>
<line x1="366" y1="461.3" x2="366" y2="463.3" stroke="#000" stroke-width="1.2"/>
<line x1="387.9" y1="461.3" x2="387.9" y2="463.3" stroke="#000" stroke-width="1.2"/>
<line x1="409.8" y1="461.3" x2="409.8" y2="463.3" stroke="#000" stroke-width="1.2"/>
<line x1="431.7" y1="461.3" x2="431.7" y2="463.3" stroke="#000" stroke-width="1.2"/>
<line x1="453.9" y1="461.3" x2="453.9" y2="463.3" stroke="#000" stroke-width="1.2"/>
<line x1="475.6" y1="461.3" x2="475.6" y2="463.3" stroke="#000" stroke-width="1.2"/>
<line x1="342.4" y1="461.3" x2="344" y2="461.3" stroke="#000" stroke-width="1.2"/>
<line x1="342.4" y1="428.4" x2="344" y2="428.4" stroke="#000" stroke-width="1.2"/>
<line x1="342.4" y1="394.5" x2="344" y2="394.5" stroke="#000" stroke-width="1.2"/>
<line x1="342.4" y1="361.7" x2="344" y2="361.7" stroke="#000" stroke-width="1.2"/>
<line x1="342.4" y1="327" x2="344" y2="327" stroke="#000" stroke-width="1.2"/>
<path d="M344,461.3 L366.3,365.1 L388,428.5 L431.5,420.8 Q453,417.3 474.8,416.9" fill="none" stroke="#000" stroke-width="2"/>
<line x1="366.3" y1="332.4" x2="366.3" y2="395.1" stroke="#000" stroke-width="1.5"/>
<line x1="364.3" y1="332.4" x2="368.3" y2="332.4" stroke="#000" stroke-width="1.5"/>
<line x1="364.3" y1="395.1" x2="368.3" y2="395.1" stroke="#000" stroke-width="1.5"/>
<line x1="388" y1="424.5" x2="388" y2="431.8" stroke="#000" stroke-width="1.5"/>
<line x1="386.25" y1="424.5" x2="389.75" y2="424.5" stroke="#000" stroke-width="1.5"/>
<line x1="386.25" y1="431.8" x2="389.75" y2="431.8" stroke="#000" stroke-width="1.5"/>
<line x1="431.5" y1="415.8" x2="431.5" y2="426.9" stroke="#000" stroke-width="1.5"/>
<line x1="429.75" y1="415.8" x2="433.25" y2="415.8" stroke="#000" stroke-width="1.5"/>
<line x1="429.75" y1="426.9" x2="433.25" y2="426.9" stroke="#000" stroke-width="1.5"/>
<line x1="474.8" y1="408.7" x2="474.8" y2="424.7" stroke="#000" stroke-width="1.5"/>
<line x1="473.05" y1="408.7" x2="476.55" y2="408.7" stroke="#000" stroke-width="1.5"/>
<line x1="473.05" y1="424.7" x2="476.55" y2="424.7" stroke="#000" stroke-width="1.5"/>
<text x="336.6" y="334.1" font-size="14" text-anchor="end" font-weight="normal" fill="#000">10000</text>
<text x="336.6" y="368.3" font-size="14" text-anchor="end" font-weight="normal" fill="#000">7500</text>
<text x="336.6" y="400.9" font-size="14" text-anchor="end" font-weight="normal" fill="#000">5000</text>
<text x="336.6" y="434.5" font-size="14" text-anchor="end" font-weight="normal" fill="#000">2500</text>
<text x="335.6" y="467.1" font-size="14" text-anchor="end" font-weight="normal" fill="#000">0</text>
<text x="366.8" y="481.5" font-size="14" text-anchor="middle" font-weight="normal" fill="#000">1</text>
<text x="389" y="481.5" font-size="14" text-anchor="middle" font-weight="normal" fill="#000">2</text>
<text x="410.7" y="481.5" font-size="14" text-anchor="middle" font-weight="normal" fill="#000">3</text>
<text x="432.3" y="481.5" font-size="14" text-anchor="middle" font-weight="normal" fill="#000">4</text>
<text x="454.5" y="481.5" font-size="14" text-anchor="middle" font-weight="normal" fill="#000">5</text>
<text x="475.6" y="481.5" font-size="14" text-anchor="middle" font-weight="normal" fill="#000">6</text>
<text transform="translate(280.4 392.6) rotate(-90)" font-size="14" text-anchor="middle">GFP-specific</text>
<text transform="translate(298 393.2) rotate(-90)" font-size="14" text-anchor="middle">CD8<tspan font-size="8.5" dy="-4.6">+</tspan><tspan dy="4.6"> T cells</tspan></text>
<line x1="83.1" y1="493.7" x2="83.1" y2="629.75" stroke="#000" stroke-width="1.6"/>
<line x1="82.3" y1="629" x2="219.6" y2="629" stroke="#000" stroke-width="1.6"/>
<line x1="105.9" y1="629" x2="105.9" y2="631" stroke="#000" stroke-width="1.2"/>
<line x1="128.2" y1="629" x2="128.2" y2="631" stroke="#000" stroke-width="1.2"/>
<line x1="150.8" y1="629" x2="150.8" y2="631" stroke="#000" stroke-width="1.2"/>
<line x1="173.4" y1="629" x2="173.4" y2="631" stroke="#000" stroke-width="1.2"/>
<line x1="196" y1="629" x2="196" y2="631" stroke="#000" stroke-width="1.2"/>
<line x1="218.6" y1="629" x2="218.6" y2="631" stroke="#000" stroke-width="1.2"/>
<line x1="81.5" y1="583.5" x2="83.1" y2="583.5" stroke="#000" stroke-width="1.2"/>
<line x1="81.5" y1="539" x2="83.1" y2="539" stroke="#000" stroke-width="1.2"/>
<circle cx="82.3" cy="490.5" r="0.9" fill="#000"/>
<line x1="83" y1="625.2" x2="221" y2="625.2" stroke="#000" stroke-width="1.2" stroke-dasharray="1.2 1.2"/>
<polyline points="83,629 105.8,628.5 128.5,540.9 174,557.8 219.6,594.5" fill="none" stroke="#000" stroke-width="2"/>
<line x1="128.5" y1="521.5" x2="128.5" y2="560.6" stroke="#000" stroke-width="1.5"/>
<line x1="127.0" y1="521.5" x2="130.0" y2="521.5" stroke="#000" stroke-width="1.5"/>
<line x1="127.0" y1="560.6" x2="130.0" y2="560.6" stroke="#000" stroke-width="1.5"/>
<line x1="174" y1="530.2" x2="174" y2="586.8" stroke="#000" stroke-width="1.5"/>
<line x1="172.5" y1="530.2" x2="175.5" y2="530.2" stroke="#000" stroke-width="1.5"/>
<line x1="172.5" y1="586.8" x2="175.5" y2="586.8" stroke="#000" stroke-width="1.5"/>
<line x1="219.6" y1="570.8" x2="219.6" y2="618.5" stroke="#000" stroke-width="1.5"/>
<line x1="218.1" y1="570.8" x2="221.1" y2="570.8" stroke="#000" stroke-width="1.5"/>
<line x1="218.1" y1="618.5" x2="221.1" y2="618.5" stroke="#000" stroke-width="1.5"/>
<text x="74.3" y="502.6" font-size="14" text-anchor="end" font-weight="normal" fill="#000">1.5</text>
<text x="74.3" y="547.4" font-size="14" text-anchor="end" font-weight="normal" fill="#000">1.0</text>
<text x="74.3" y="591.6" font-size="14" text-anchor="end" font-weight="normal" fill="#000">0.5</text>
<text x="73.1" y="636.9" font-size="14" text-anchor="end" font-weight="normal" fill="#000">0</text>
<text x="109.3" y="650" font-size="14" text-anchor="middle" font-weight="normal" fill="#000">1</text>
<text x="131.3" y="650" font-size="14" text-anchor="middle" font-weight="normal" fill="#000">2</text>
<text x="154.2" y="650" font-size="14" text-anchor="middle" font-weight="normal" fill="#000">3</text>
<text x="176.8" y="650" font-size="14" text-anchor="middle" font-weight="normal" fill="#000">4</text>
<text x="198.8" y="650" font-size="14" text-anchor="middle" font-weight="normal" fill="#000">5</text>
<text x="221.4" y="650" font-size="14" text-anchor="middle" font-weight="normal" fill="#000">6</text>
<text transform="translate(16.7 554.6) rotate(-90)" font-size="14.35" text-anchor="middle">anti-GFP Abs</text>
<text transform="translate(34.3 554.2) rotate(-90)" font-size="14.7" text-anchor="middle">(O.D. 492nm)</text>
<line x1="297.3" y1="493.3" x2="297.3" y2="629.25" stroke="#000" stroke-width="1.6"/>
<line x1="296.5" y1="628.5" x2="424.3" y2="628.5" stroke="#000" stroke-width="1.6"/>
<line x1="318.3" y1="628.5" x2="318.3" y2="630.5" stroke="#000" stroke-width="1.2"/>
<line x1="339.6" y1="628.5" x2="339.6" y2="630.5" stroke="#000" stroke-width="1.2"/>
<line x1="361.2" y1="628.5" x2="361.2" y2="630.5" stroke="#000" stroke-width="1.2"/>
<line x1="382.9" y1="628.5" x2="382.9" y2="630.5" stroke="#000" stroke-width="1.2"/>
<line x1="403.9" y1="628.5" x2="403.9" y2="630.5" stroke="#000" stroke-width="1.2"/>
<line x1="424.1" y1="628.5" x2="424.1" y2="630.5" stroke="#000" stroke-width="1.2"/>
<path d="M297.3,628.0 C298.1,622.8 300.4,606.7 302.0,597.0 C303.6,587.3 305.1,578.9 306.6,570.0 C308.1,561.1 309.7,550.5 310.8,543.5 C311.9,536.5 312.6,532.1 313.5,528.0 C314.4,523.9 315.3,521.2 316.2,518.8 C317.1,516.4 318.1,513.9 319.1,513.8 C320.1,513.7 321.4,516.0 322.3,518.1 C323.2,520.2 323.9,523.5 324.6,526.5 C325.3,529.5 325.9,532.7 326.5,535.8 C327.1,538.9 327.8,541.0 328.5,545.0 C329.2,549.0 330.0,555.5 330.8,560.0 C331.6,564.5 333.1,570.0 333.5,572.0" fill="none" stroke="#6a6a6a" stroke-width="1.3" stroke-dasharray="2.2 1.6"/>
<path d="M333.5,572.0 C334.1,573.7 335.8,578.9 337.0,582.0 C338.2,585.1 339.3,588.5 340.8,590.8 C342.3,593.0 344.2,594.2 346.0,595.5 C347.8,596.8 349.2,597.5 351.5,598.5 C353.8,599.5 357.4,600.8 360.0,601.5 C362.6,602.2 364.4,602.5 367.0,603.0 C369.6,603.5 371.4,604.0 375.4,604.6 C379.4,605.2 386.2,606.1 390.8,606.4 C395.4,606.7 399.1,606.7 403.0,606.6 C406.9,606.5 410.4,606.3 414.0,606.0 C417.6,605.7 422.8,605.2 424.6,605.0" fill="none" stroke="#6a6a6a" stroke-width="1.1" stroke-dasharray="1.2 1.2"/>
<path d="M297.3,628.0 C299.2,622.3 305.1,605.3 309.0,594.0 C312.9,582.7 318.3,568.2 320.8,560.0 C323.3,551.8 323.1,549.0 324.2,545.0 C325.3,541.0 326.6,539.3 327.7,535.8 C328.8,532.3 329.9,527.4 330.8,524.2 C331.7,521.0 332.2,518.4 333.1,516.5 C334.1,514.6 335.4,513.2 336.5,512.7 C337.6,512.2 338.9,512.4 340.0,513.5 C341.1,514.6 342.0,517.3 343.1,519.6 C344.2,521.9 345.8,525.0 346.9,527.3 C348.0,529.6 348.5,529.7 350.0,533.5 C351.5,537.3 353.8,543.9 356.0,550.0 C358.2,556.1 360.8,564.1 363.0,570.0 C365.2,575.9 367.1,580.5 369.2,585.4 C371.3,590.3 373.6,595.4 375.4,599.2 C377.2,603.1 378.2,605.7 380.0,608.5 C381.8,611.3 383.9,614.2 386.2,616.2 C388.5,618.2 391.2,619.7 393.8,620.8 C396.4,621.9 398.5,622.3 401.5,622.6 C404.5,622.9 408.1,622.7 412.0,622.6 C415.9,622.5 422.5,622.3 424.6,622.3" fill="none" stroke="#62aa56" stroke-width="1.4"/>
<linearGradient id="rg" gradientUnits="userSpaceOnUse" x1="0" y1="628" x2="0" y2="540"><stop offset="0" stop-color="#dba4b4"/><stop offset="1" stop-color="#c24458"/></linearGradient>
<path d="M318.5,628.5 C319.1,623.6 321.1,608.8 322.4,599.0 C323.7,589.2 325.2,577.2 326.2,570.0 C327.2,562.8 327.7,560.2 328.4,556.0 C329.1,551.8 330.1,546.8 330.4,545.0" fill="none" stroke="url(#rg)" stroke-width="1.1"/>
<path d="M330.4,545.0 C330.8,542.8 332.0,536.0 333.1,531.9 C334.2,527.8 335.6,523.2 336.9,520.4 C338.2,517.6 339.7,516.3 340.8,515.0 C341.9,513.7 342.5,512.9 343.6,512.6 C344.8,512.4 346.6,513.0 347.7,513.5 C348.8,514.0 348.8,514.5 350.0,515.8 C351.2,517.1 353.3,519.3 355.0,521.5 C356.7,523.7 357.9,526.1 360.0,529.2 C362.1,532.3 365.1,536.1 367.7,540.0 C370.3,543.9 372.8,549.0 375.4,552.3 C378.0,555.6 380.5,558.0 383.1,560.0 C385.7,562.0 388.2,563.3 390.8,564.6 C393.4,565.9 395.9,566.9 398.5,567.7 C401.1,568.5 403.6,569.0 406.2,569.5 C408.8,570.0 410.7,570.2 413.8,570.5 C416.9,570.8 422.8,571.1 424.6,571.2" fill="none" stroke="#c0283e" stroke-width="1.5"/>
<text x="318.3" y="650" font-size="14" text-anchor="middle" font-weight="normal" fill="#000">1</text>
<text x="340.5" y="650" font-size="14" text-anchor="middle" font-weight="normal" fill="#000">2</text>
<text x="362.1" y="650" font-size="14" text-anchor="middle" font-weight="normal" fill="#000">3</text>
<text x="383.7" y="650" font-size="14" text-anchor="middle" font-weight="normal" fill="#000">4</text>
<text x="405.4" y="650" font-size="14" text-anchor="middle" font-weight="normal" fill="#000">5</text>
<text x="427" y="650" font-size="14" text-anchor="middle" font-weight="normal" fill="#000">6</text>
<text transform="translate(282 557) rotate(-90)" font-size="14" text-anchor="middle">intensity</text>
<text x="446.2" y="568.5" font-size="14" text-anchor="start" font-weight="normal" fill="#000">humoral IR</text>
<text x="451.2" y="604.2" font-size="14" text-anchor="start" font-weight="normal" fill="#000">cellular IR</text>
<text x="411" y="622" font-size="14" text-anchor="start" font-weight="normal" fill="#000">GFP expression</text>
<text x="50.4" y="674.2" font-size="13.9" text-anchor="start" font-weight="normal" fill="#000">weeks after LV-CMV-GFP injection</text>
<line x1="272.7" y1="671.7" x2="485" y2="671.7" stroke="#000" stroke-width="1.4"/>
<polygon points="483.5,667.4 492.3,671.6 483.5,675.6" fill="#000"/>
</g>
</svg></body></html>
